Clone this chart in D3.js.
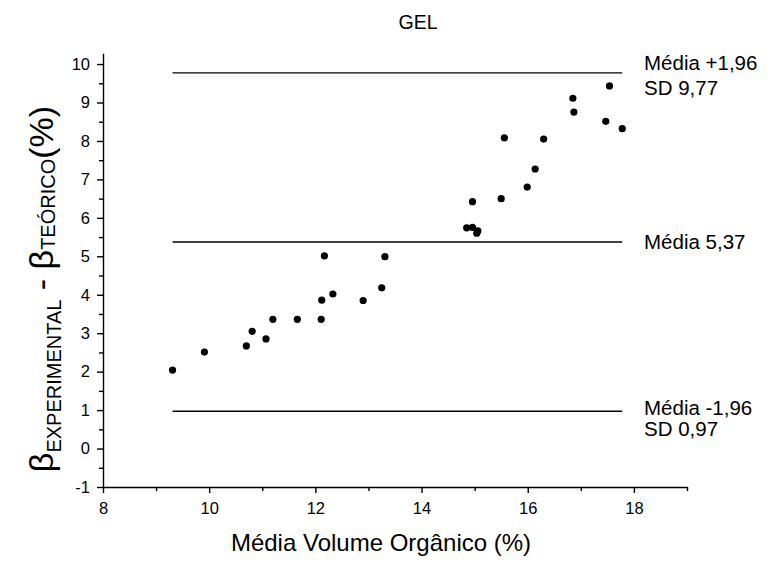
<!DOCTYPE html>
<html>
  <head>
    <meta charset="utf-8">
    <title>GEL</title>
    <script src="https://d3js.org/d3.v7.min.js"></script>
    <style>
      body { margin: 0; background: #fff; }
      text { font-family: "Liberation Sans", Arial, sans-serif; fill: #000; }
      .axis path, .axis line { stroke: #000; stroke-width: 1.4; }
    </style>
  </head>
  <body>
    <div id="vis"></div>
    <script>
        const width = 768;
        const height = 563;

        // data
        const xValues = [9.31, 9.91, 10.70, 10.81, 11.07, 11.20, 11.66, 12.11, 12.12, 12.17,
                         12.33, 12.90, 13.25, 13.31, 14.85, 14.96, 15.06, 15.04, 14.96, 15.50,
                         15.56, 15.99, 16.14, 16.30, 16.85, 16.87, 17.47, 17.54, 17.78];
        const yValues = [2.04, 2.51, 2.67, 3.05, 2.85, 3.36, 3.36, 3.36, 3.86, 5.01,
                         4.02, 3.85, 4.18, 4.99, 5.74, 5.75, 5.66, 5.60, 6.42, 6.50,
                         8.08, 6.80, 7.27, 8.05, 9.11, 8.75, 8.51, 9.43, 8.32];

        const lineValues = [9.77, 5.37, 0.97];
        const lineLabels = [["Média +1,96", "SD 9,77"], ["Média 5,37"], ["Média -1,96", "SD 0,97"]];

        const xMajor = [8, 10, 12, 14, 16, 18];
        const xMinor = [9, 11, 13, 15, 17, 19];
        const yMajor = [-1, 0, 1, 2, 3, 4, 5, 6, 7, 8, 9, 10];
        const yMinor = [-0.5, 0.5, 1.5, 2.5, 3.5, 4.5, 5.5, 6.5, 7.5, 8.5, 9.5];

        const points = xValues.map((d, i) => ({x: d, y: yValues[i]}));

        const svg = d3.select('#vis').append("svg").attr("width", width).attr("height", height);

        const x = d3.scaleLinear().domain([8, 19]).range([103, 687]);
        const y = d3.scaleLinear().domain([-1, 10.28]).range([487, 487 - 11.28 * 38.45]);

        // axes
        svg.append("g").attr("class", "axis")
          .attr("transform", "translate(0,487)")
          .call(d3.axisBottom(x).tickValues(xMajor).tickSize(6).tickSizeOuter(0).tickPadding(9).tickFormat(d => String(d)))
          .call(g => g.selectAll("text").attr("font-size", 16.5).attr("font-family", null));
        svg.append("g").attr("class", "axis")
          .attr("transform", "translate(0,487)")
          .call(d3.axisBottom(x).tickValues(xMinor).tickSize(4).tickSizeOuter(0).tickFormat(""))
          .call(g => g.select(".domain").remove());

        svg.append("g").attr("class", "axis")
          .attr("transform", "translate(103,0)")
          .call(d3.axisLeft(y).tickValues(yMajor).tickSize(6).tickSizeOuter(0).tickPadding(7).tickFormat(d => String(d)))
          .call(g => g.selectAll("text").attr("font-size", 16.5).attr("font-family", null));
        svg.append("g").attr("class", "axis")
          .attr("transform", "translate(103,0)")
          .call(d3.axisLeft(y).tickValues(yMinor).tickSize(4).tickSizeOuter(0).tickFormat(""))
          .call(g => g.select(".domain").remove());

        // mean and limit lines
        const xExt = d3.extent(xValues);
        svg.append("g").selectAll("line")
          .data(lineValues)
          .enter()
          .append("line")
          .attr("x1", x(xExt[0]))
          .attr("x2", x(xExt[1]))
          .attr("y1", d => y(d))
          .attr("y2", d => y(d))
          .attr("stroke", "#000")
          .attr("stroke-width", 1.4);

        const labelOffsets = [[-3, 22], [7], [4, 25]];
        lineValues.forEach(function(v, i){
          lineLabels[i].forEach(function(t, j){
            svg.append("text")
              .attr("x", 644)
              .attr("y", y(v) + labelOffsets[i][j])
              .attr("font-size", 20.5)
              .text(t);
          });
        });

        // points
        svg.append("g").selectAll("circle")
          .data(points)
          .enter()
          .append("circle")
          .attr("cx", d => x(d.x))
          .attr("cy", d => y(d.y))
          .attr("r", 3.6)
          .attr("fill", "#000");

        // title
        svg.append("text")
          .attr("x", 418).attr("y", 29)
          .attr("text-anchor", "middle")
          .attr("font-size", 19.5)
          .text("GEL");

        // x axis title
        svg.append("text")
          .attr("x", 381).attr("y", 551)
          .attr("text-anchor", "middle")
          .attr("font-size", 24)
          .text("Média Volume Orgânico (%)");

        // y axis title
        const yt = svg.append("text")
          .attr("transform", "translate(53,289) rotate(-90)")
          .attr("text-anchor", "middle")
          .attr("font-size", 34);
        yt.append("tspan").text("β");
        yt.append("tspan").attr("font-size", 20).attr("dy", 8).text("EXPERIMENTAL");
        yt.append("tspan").attr("dy", -8).text(" - β");
        yt.append("tspan").attr("font-size", 20).attr("dy", 2).text("TEÓRICO");
        yt.append("tspan").attr("dy", -2).text("(%)");
    </script>
  </body>
</html>
